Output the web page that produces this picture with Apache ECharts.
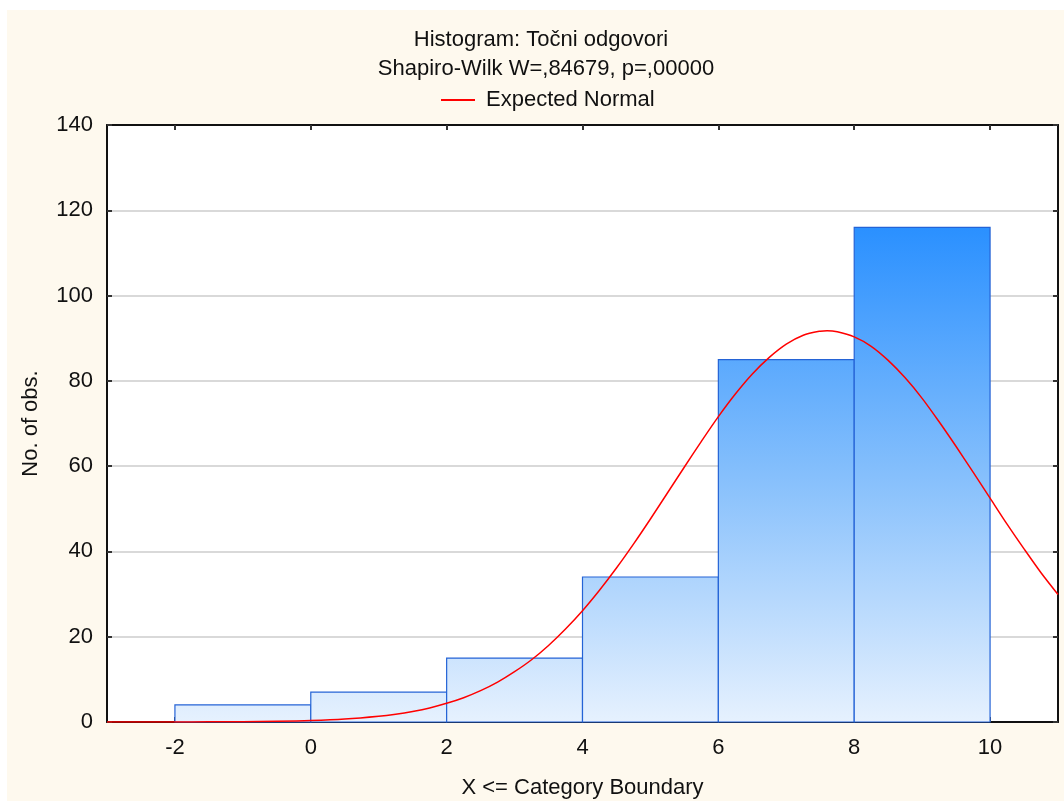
<!DOCTYPE html>
<html>
<head>
<meta charset="utf-8">
<script src="https://cdn.jsdelivr.net/npm/echarts@6/dist/echarts.min.js"></script>
<style>
  html, body { margin: 0; padding: 0; background: #ffffff; }
  #chart { width: 1064px; height: 801px; }
</style>
</head>
<body>
<div id="chart"></div>
<script>
// Histogram bins: lower and upper category boundaries with observed counts
const binStart = [-2, 0, 2, 4, 6, 8];
const binEnd = [0, 2, 4, 6, 8, 10];
const binCounts = [4, 7, 15, 34, 85, 116];

// Expected normal curve, sampled along the x range
const curveX = [-3, -2.5, -2, -1.5, -1, -0.5, 0, 0.5, 1, 1.25, 1.5, 1.75, 2, 2.25, 2.5, 2.75,
  3, 3.25, 3.5, 3.75, 4, 4.25, 4.5, 4.75, 5, 5.25, 5.5, 5.75, 6, 6.25, 6.5, 6.75,
  7, 7.25, 7.5, 7.6, 7.75, 8, 8.25, 8.5, 8.75, 9, 9.25, 9.5, 9.75, 10, 10.25, 10.5, 10.75, 11];
const curveY = [0.0, 0.005, 0.01, 0.03, 0.07, 0.16, 0.34, 0.69, 1.34, 1.83, 2.48, 3.3, 4.38, 5.7, 7.35, 9.36,
  11.8, 14.6, 17.95, 21.8, 26.1, 30.9, 36.1, 41.7, 47.6, 53.7, 59.8, 65.8, 71.6, 76.9, 81.6, 85.5,
  88.6, 90.7, 91.65, 91.74, 91.5, 90.3, 88.1, 84.8, 80.7, 75.9, 70.4, 64.6, 58.6, 52.5, 46.4, 40.6, 35.0, 29.9];

// Axis tick labels
const xTicks = [-2, 0, 2, 4, 6, 8, 10];
const yTicks = [0, 20, 40, 60, 80, 100, 120, 140];

const chart = echarts.init(document.getElementById('chart'));

const font = 'Liberation Sans, Arial, sans-serif';
const fontSize = 22;
const barFill = new echarts.graphic.LinearGradient(0, 227, 0, 722, [
  { offset: 0, color: '#2a90ff' },
  { offset: 0.5, color: '#85bffc' },
  { offset: 1, color: '#e6f1fe' }
], true);

const histData = binStart.map((s, i) => [s, binEnd[i], binCounts[i]]);
const curveData = curveX.map((x, i) => [x, curveY[i]]);

const frameAxisX = {
  type: 'value', min: -3, max: 11,
  splitLine: { show: false },
  axisLine: { show: true, onZero: false, lineStyle: { color: '#111', width: 2 } },
  axisTick: { show: true, inside: true, length: 5, customValues: xTicks, lineStyle: { color: '#333', width: 2 } },
};
const frameAxisY = {
  type: 'value', min: yTicks[0], max: yTicks[yTicks.length - 1], interval: 20,
  axisLine: { show: true, onZero: false, lineStyle: { color: '#111', width: 2 } },
  axisTick: { show: true, inside: true, length: 5, lineStyle: { color: '#333', width: 2 } },
};

chart.setOption({
  animation: false,
  backgroundColor: '#ffffff',
  graphic: [{
    type: 'rect', left: 7, top: 10, z: -10, silent: true,
    shape: { width: 1057, height: 791 },
    style: { fill: '#fef9ee' }
  }, {
    type: 'text', x: 541, y: 40, silent: true,
    style: { text: 'Histogram: Točni odgovori', font: fontSize + 'px ' + font, fill: '#111',
      align: 'center', verticalAlign: 'middle' }
  }, {
    type: 'text', x: 546, y: 69, silent: true,
    style: { text: 'Shapiro-Wilk W=,84679, p=,00000', font: fontSize + 'px ' + font, fill: '#111',
      align: 'center', verticalAlign: 'middle' }
  }],
  legend: {
    top: 84, left: 436,
    itemWidth: 34, itemHeight: 2, itemGap: 10,
    icon: 'rect',
    textStyle: { fontFamily: font, fontSize: fontSize, color: '#111', padding: [0, 0, 0, 6] },
    data: [{ name: 'Expected Normal', itemStyle: { color: '#ff0000' } }]
  },
  grid: { left: 107, right: 6, top: 125, bottom: 79, outerBoundsMode: 'none',
    backgroundColor: '#ffffff', show: true, borderWidth: 0 },
  xAxis: [Object.assign({}, frameAxisX, {
    position: 'bottom',
    name: 'X <= Category Boundary', nameLocation: 'middle', nameGap: 55,
    nameTextStyle: { fontFamily: font, fontSize: fontSize, color: '#111' },
    axisLabel: { customValues: xTicks, margin: 15, fontFamily: font, fontSize: fontSize, color: '#111' }
  }), Object.assign({}, frameAxisX, {
    position: 'top', axisLabel: { show: false }
  })],
  yAxis: [Object.assign({}, frameAxisY, {
    position: 'left',
    name: 'No. of obs.', nameLocation: 'middle', nameGap: 65,
    nameTextStyle: { fontFamily: font, fontSize: fontSize, color: '#111' },
    axisLabel: { margin: 14, fontFamily: font, fontSize: fontSize, color: '#111' },
    splitLine: { show: true, lineStyle: { color: '#d9d9d9', width: 2 } }
  }), Object.assign({}, frameAxisY, {
    position: 'right',
    axisLabel: { show: false },
    splitLine: { show: false }
  })],
  series: [{
    type: 'custom',
    name: 'Histogram',
    xAxisIndex: 0, yAxisIndex: 0,
    data: histData,
    encode: { x: [0, 1], y: 2 },
    renderItem: function (params, api) {
      const p0 = api.coord([api.value(0), api.value(2)]);
      const p1 = api.coord([api.value(1), 0]);
      return {
        type: 'rect',
        shape: { x: p0[0], y: p0[1], width: p1[0] - p0[0], height: p1[1] - p0[1] },
        style: { fill: barFill, stroke: '#2463d6', lineWidth: 1.2 }
      };
    },
    z: 2
  }, {
    type: 'line',
    name: 'Expected Normal',
    xAxisIndex: 0, yAxisIndex: 0,
    data: curveData,
    smooth: 0.3,
    showSymbol: false,
    lineStyle: { color: '#ff0000', width: 1.5 },
    itemStyle: { color: '#ff0000' },
    z: 3
  }]
});
</script>
</body>
</html>
